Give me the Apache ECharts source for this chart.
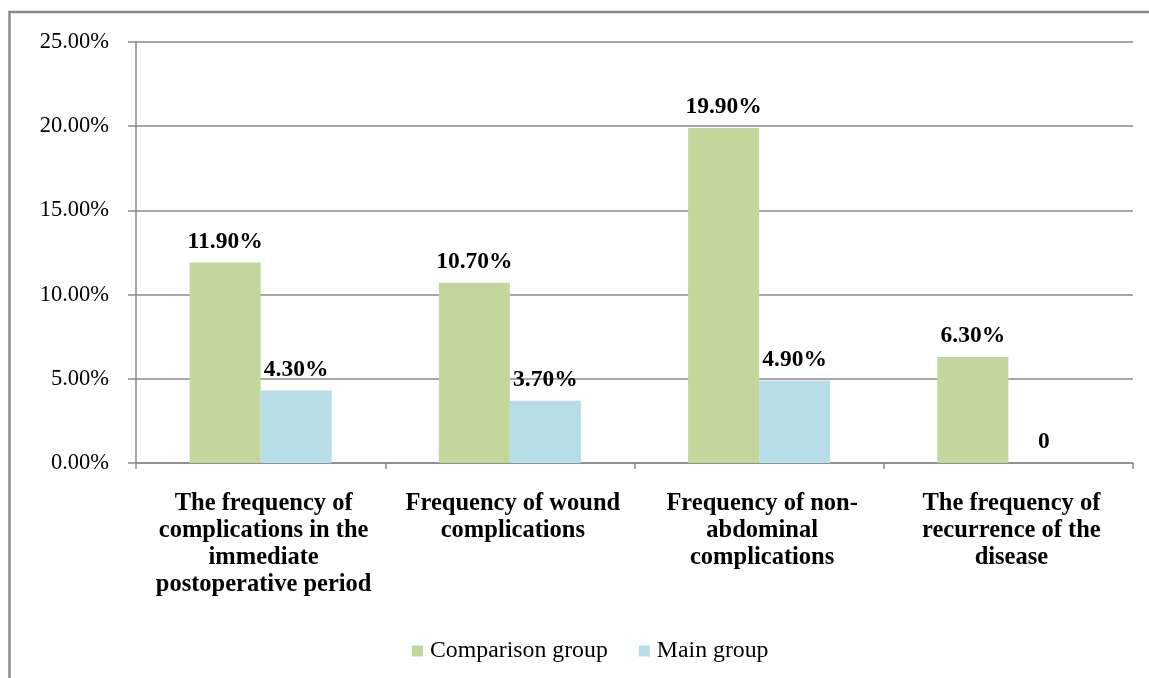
<!DOCTYPE html>
<html>
<head>
<meta charset="utf-8">
<title>Complication frequency by group</title>
<script src="https://cdn.jsdelivr.net/npm/echarts@6/dist/echarts.min.js"></script>
<style>
  html, body { margin: 0; padding: 0; background: #fff; }
  #chart { width: 1149px; height: 678px; }
</style>
</head>
<body>
<div id="chart"></div>
<script>
// Outcome categories (line breaks as they are set on the axis)
const categories = [
  'The frequency of\ncomplications in the\nimmediate\npostoperative period',
  'Frequency of wound\ncomplications',
  'Frequency of non-\nabdominal\ncomplications',
  'The frequency of\nrecurrence of the\ndisease'
];

// Percent values per group
const comparisonGroup = [11.9, 10.7, 19.9, 6.3];
const mainGroup = [4.3, 3.7, 4.9, 0];

const seriesNames = ['Comparison group', 'Main group'];

const FONT = '"Liberation Serif", "Times New Roman", serif';
const GRID_COLOR = '#8a8a8a';

function pctLabel(p) {
  return p.value === 0 ? '0' : p.value.toFixed(2) + '%';
}

const valueLabel = {
  show: true,
  position: 'top',
  distance: 9,
  fontFamily: FONT,
  fontSize: 23.5,
  fontWeight: 'bold',
  color: '#000',
  formatter: pctLabel
};

const chart = echarts.init(document.getElementById('chart'), null, { renderer: 'canvas' });

chart.setOption({
  animation: false,
  backgroundColor: '#ffffff',
  textStyle: { fontFamily: FONT },
  graphic: [{
    type: 'rect',
    shape: { x: 9.5, y: 12, width: 1300, height: 800 },
    style: { fill: 'none', stroke: GRID_COLOR, lineWidth: 2.5 },
    silent: true,
    z: -1
  }],
  grid: { left: 136, right: 16, top: 42, bottom: 215, containLabel: false },
  legend: {
    left: 412,
    top: 639,
    padding: 0,
    itemWidth: 11,
    itemHeight: 11,
    itemGap: 31,
    icon: 'rect',
    textStyle: { fontFamily: FONT, fontSize: 23.8, color: '#000', padding: [0, 0, 0, 2] },
    data: seriesNames
  },
  xAxis: {
    type: 'category',
    data: categories,
    axisLine: { show: true, lineStyle: { color: GRID_COLOR, width: 1.5 } },
    axisTick: { show: true, length: 6, lineStyle: { color: GRID_COLOR, width: 1.5 } },
    axisLabel: {
      interval: 0,
      margin: 27,
      fontFamily: FONT,
      fontSize: 24.5,
      fontWeight: 'bold',
      lineHeight: 27,
      color: '#000',
      align: 'center',
      padding: [0, 0, 0, 6]
    }
  },
  yAxis: {
    type: 'value',
    min: 0,
    max: 25,
    interval: 5,
    axisLine: { show: true, lineStyle: { color: GRID_COLOR, width: 1.5 } },
    axisTick: { show: true, length: 8, lineStyle: { color: GRID_COLOR, width: 1.5 } },
    splitLine: { show: true, lineStyle: { color: GRID_COLOR, width: 1.5 } },
    axisLabel: {
      margin: 27,
      fontFamily: FONT,
      fontSize: 22.5,
      color: '#000',
      formatter: v => v.toFixed(2) + '%'
    }
  },
  series: [
    {
      name: seriesNames[0],
      type: 'bar',
      data: comparisonGroup,
      barGap: '0%',
      barCategoryGap: '43%',
      itemStyle: { color: '#c3d69b' },
      label: valueLabel
    },
    {
      name: seriesNames[1],
      type: 'bar',
      data: mainGroup,
      itemStyle: { color: '#b7dde8' },
      label: valueLabel
    }
  ]
});
</script>
</body>
</html>
